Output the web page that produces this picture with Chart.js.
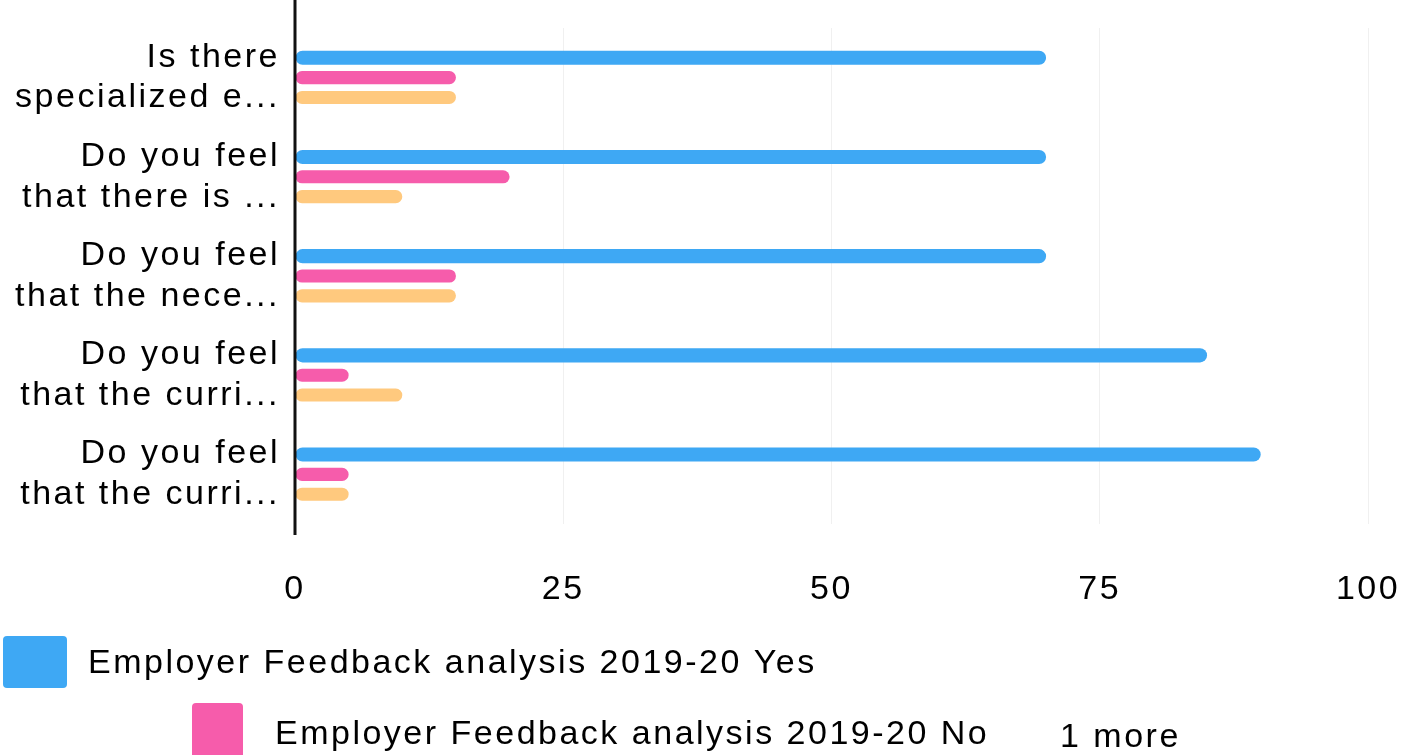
<!DOCTYPE html>
<html>
<head>
<meta charset="utf-8">
<script src="https://cdn.jsdelivr.net/npm/chart.js@4"></script>
<style>
  body { margin: 0; background: #fff; }
  #wrap { width: 1403px; height: 755px; position: relative; }
</style>
</head>
<body>
<div id="wrap"><canvas id="feedback"></canvas></div>
<script>
const questions = [
    ["Is there", "specialized e..."],
    ["Do you feel", "that there is ..."],
    ["Do you feel", "that the nece..."],
    ["Do you feel", "that the curri..."],
    ["Do you feel", "that the curri..."]
]
const seriesNames = [
    "Employer Feedback analysis 2019-20 Yes",
    "Employer Feedback analysis 2019-20 No",
    "Employer Feedback analysis 2019-20 Maybe"
]
const yesValues = [70, 70, 70, 85, 90]
const noValues = [15, 20, 15, 5, 5]
const maybeValues = [15, 10, 15, 10, 5]
const xTicks = [0, 25, 50, 75, 100]
const seriesColors = ["#3ea8f4", "#f65cab", "#ffc97e"]

const FONT = "'Liberation Sans', Arial, sans-serif"

const spacing = {
    id: "spacing",
    beforeUpdate(chart) { chart.ctx.letterSpacing = "2.5px" },
    beforeLayout(chart) { chart.ctx.letterSpacing = "2.5px" },
    beforeDraw(chart) { chart.ctx.letterSpacing = "2.5px" }
}

const zeroLine = {
    id: "zeroLine",
    afterDatasetsDraw(chart) {
        const ctx = chart.ctx
        const x = chart.scales.x.getPixelForValue(0)
        ctx.save()
        ctx.strokeStyle = "#111"
        ctx.lineWidth = 3
        ctx.beginPath()
        ctx.moveTo(x, 0)
        ctx.lineTo(x, chart.chartArea.bottom + 11)
        ctx.stroke()
        ctx.restore()
    }
}

const pagedLegend = {
    id: "pagedLegend",
    afterDraw(chart) {
        const ctx = chart.ctx
        const sets = chart.data.datasets
        ctx.save()
        ctx.letterSpacing = "2.5px"
        ctx.font = "34px " + FONT
        ctx.textBaseline = "middle"
        ctx.fillStyle = sets[0].backgroundColor
        ctx.beginPath()
        ctx.roundRect(3, 636, 64, 52, 4)
        ctx.fill()
        ctx.fillStyle = sets[1].backgroundColor
        ctx.beginPath()
        ctx.roundRect(192, 703, 51, 60, 4)
        ctx.fill()
        ctx.fillStyle = "#000"
        ctx.fillText(sets[0].label, 88, 664)
        ctx.fillText(sets[1].label, 275, 735)
        ctx.fillText((sets.length - 2) + " more", 1060, 738)
        ctx.restore()
    }
}

function buildFeedbackBar() {
    const values = [yesValues, noValues, maybeValues]
    const datasets = values.map((v, i) => ({
        label: seriesNames[i],
        data: v,
        backgroundColor: seriesColors[i],
        borderRadius: 7,
        borderSkipped: false,
        categoryPercentage: 0.6,
        barPercentage: i == 0 ? 0.71 : 0.66
    }))

    new Chart("feedback", {
        type: "bar",
        data: {
            labels: questions,
            datasets: datasets
        },
        options: {
            indexAxis: "y",
            responsive: true,
            maintainAspectRatio: false,
            animation: false,
            layout: { padding: { top: 28, right: 35, bottom: 148, left: 0 } },
            plugins: {
                legend: { display: false },
                tooltip: { enabled: false }
            },
            scales: {
                x: {
                    min: 0,
                    max: 100,
                    afterBuildTicks: scale => { scale.ticks = xTicks.map(v => ({ value: v })) },
                    afterFit: scale => {
                        scale.height = 83
                        scale.paddingLeft = 0
                        scale.paddingRight = 0
                    },
                    grid: {
                        color: ctx => ctx.tick && ctx.tick.value == 0 ? "rgba(0,0,0,0)" : "#f0f0f0",
                        drawTicks: false
                    },
                    border: { display: false },
                    ticks: {
                        padding: 45,
                        color: "#000",
                        font: { family: FONT, size: 34 }
                    }
                },
                y: {
                    afterFit: scale => {
                        scale.width = 295
                        scale.paddingTop = 0
                        scale.paddingBottom = 0
                    },
                    grid: { display: false, drawTicks: false },
                    border: { display: false },
                    ticks: {
                        padding: 15,
                        color: "#000",
                        font: { family: FONT, size: 34, lineHeight: 1.2 }
                    }
                }
            }
        },
        plugins: [spacing, zeroLine, pagedLegend]
    })
}

buildFeedbackBar()
</script>
</body>
</html>
